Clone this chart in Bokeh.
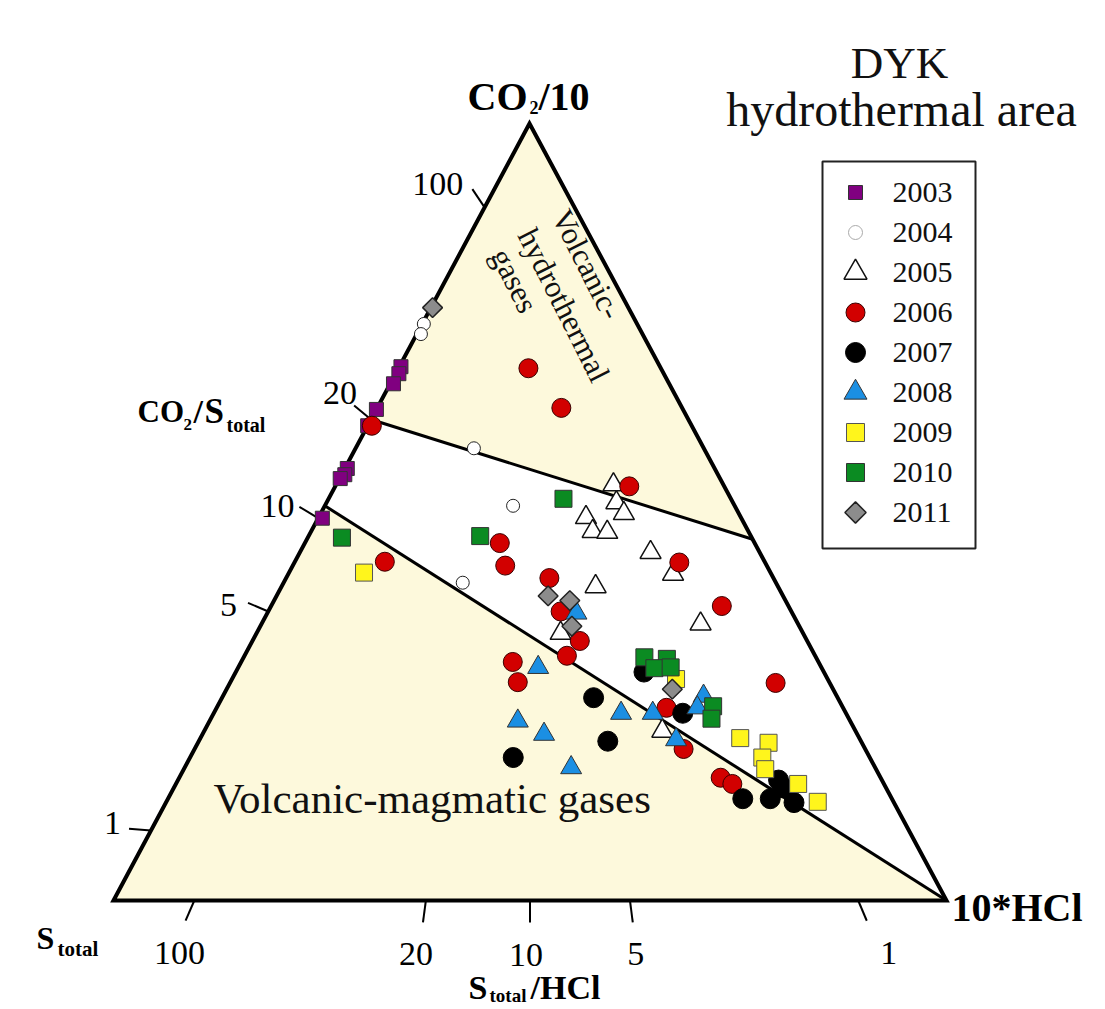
import numpy as np
from bokeh.plotting import figure
from bokeh.models import Range1d
from bokeh.embed import file_html
from bokeh.resources import INLINE
from bokeh.core.properties import value

# ---------------- data: ternary percentages (CO2/10 , 10*HCl ; S_total = rest) -------------
co2_2003 = [68.7, 67.8, 66.5, 63.2, 61.1, 55.6, 54.8, 54.3, 49.2]
hcl_2003 = [0.2, 0.4, 0.4, 0.0, 0.0, 0.3, 0.4, 0.1, 0.5]

co2_2004 = [74.2, 72.9, 58.2, 50.8, 40.9]
hcl_2004 = [0.2, 0.5, 14.2, 22.6, 21.5]

co2_2005 = [53.5, 51.2, 49.8, 49.3, 47.5, 47.4, 44.8, 42.0, 40.4, 35.6, 34.4, 21.8]
hcl_2005 = [33.3, 34.8, 36.4, 32.1, 33.8, 35.6, 42.1, 46.2, 37.7, 52.7, 36.5, 55.0]

co2_2006 = [61.1, 68.5, 63.4, 53.3, 46.0, 43.1, 43.6, 41.5, 37.2, 33.4, 31.5, 30.7, 28.1,
            43.5, 37.9, 28.0, 24.8, 19.5, 15.8, 15.0]
hcl_2006 = [0.5, 15.6, 22.1, 35.3, 23.4, 25.5, 10.8, 31.6, 35.1, 39.3, 38.7, 32.6, 34.5,
            46.2, 54.1, 65.5, 54.0, 58.7, 65.0, 66.8]

co2_2007 = [29.4, 26.1, 24.1, 20.5, 18.4, 13.1, 13.1, 15.5, 14.5, 12.6]
hcl_2007 = [49.0, 44.6, 56.3, 49.1, 38.8, 69.0, 72.3, 72.1, 73.1, 75.4]

co2_2008 = [37.0, 30.0, 23.1, 21.4, 17.1, 24.1, 24.1, 20.7, 26.3, 24.8]
hcl_2008 = [37.1, 36.0, 37.0, 41.0, 46.4, 48.9, 52.7, 57.2, 57.7, 57.7]

co2_2009 = [42.2, 28.5, 20.9, 20.3, 18.4, 16.9, 15.0, 12.7]
hcl_2009 = [9.0, 53.3, 64.8, 68.5, 68.7, 69.8, 74.7, 78.2]

co2_2010 = [46.7, 46.9, 51.7, 31.3, 31.1, 29.9, 30.0, 25.0, 23.4]
hcl_2010 = [4.1, 20.6, 28.2, 48.1, 50.9, 50.0, 51.9, 59.5, 60.1]

co2_2011 = [76.3, 39.2, 38.6, 35.3, 27.2]
hcl_2011 = [0.2, 32.6, 35.5, 37.4, 53.5]

years = ["2003", "2004", "2005", "2006", "2007", "2008", "2009", "2010", "2011"]

# axis ticks (ratio labels) and their position along the edges (% of the edge)
left_tick_labels = ["1", "5", "10", "20", "100"]        # CO2/S_total
left_tick_co2 = [9.0, 37.2, 49.2, 61.9, 89.2]
bottom_tick_labels = ["100", "20", "10", "5", "1"]      # S_total/HCl
bottom_tick_hcl = [9.7, 37.5, 50.0, 62.0, 89.4]

# field boundaries (ternary end points: co2 %, hcl %)
upper_line = [(61.9, 0.0), (46.5, 53.5)]
lower_line = [(50.8, 0.0), (0.0, 100.0)]

# ---------------- geometry (screen pixels) ----------------
SX, SY = 113.0, 900.0     # S_total vertex
HX, HY = 946.0, 900.0     # 10*HCl vertex
CX, CY = 529.0, 123.0     # CO2/10 vertex


def tern(co2, hcl):
    c = np.asarray(co2, dtype=float) / 100.0
    h = np.asarray(hcl, dtype=float) / 100.0
    s = 1.0 - c - h
    return s * SX + c * CX + h * HX, s * SY + c * CY + h * HY


W, H = 1104, 1008
p = figure(width=W, height=H, x_range=Range1d(0, W), y_range=Range1d(H, 0),
           output_backend="svg", toolbar_location=None,
           x_axis_location=None, y_axis_location=None,
           min_border=0, outline_line_color=None)
p.grid.visible = False
p.background_fill_color = "white"
p.border_fill_color = "white"

FONT = value("Liberation Serif")
CREAM = "#fdf9dc"

# triangle fill
tx, ty = tern([0, 100, 0], [0, 0, 100])
p.patch(list(tx), list(ty), fill_color=CREAM, line_color=None)

# white middle field
(ul1x, ul2x), (ul1y, ul2y) = tern([upper_line[0][0], upper_line[1][0]], [upper_line[0][1], upper_line[1][1]])
(ll1x, ll2x), (ll1y, ll2y) = tern([lower_line[0][0], lower_line[1][0]], [lower_line[0][1], lower_line[1][1]])
p.patch([ul1x, ul2x, ll2x, ll1x], [ul1y, ul2y, ll2y, ll1y], fill_color="white", line_color=None)

# boundary lines
p.line([ul1x, ul2x], [ul1y, ul2y], line_color="black", line_width=3)
p.line([ll1x, ll2x], [ll1y, ll2y], line_color="black", line_width=3)

# triangle outline
p.patch(list(tx), list(ty), fill_color=None, line_color="black", line_width=4, line_join="miter")

# ticks: radial from the opposite vertex
TL = 22.0
lx, ly = tern(left_tick_co2, [0] * len(left_tick_co2))
dxl, dyl = lx - HX, ly - HY
nl = np.hypot(dxl, dyl)
lex, ley = lx + TL * dxl / nl, ly + TL * dyl / nl
p.segment(lx, ly, lex, ley, line_color="black", line_width=2)

bx, by = tern([0] * len(bottom_tick_hcl), bottom_tick_hcl)
dxb, dyb = bx - CX, by - CY
nb = np.hypot(dxb, dyb)
bex, bey = bx + TL * dxb / nb, by + TL * dyb / nb
p.segment(bx, by, bex, bey, line_color="black", line_width=2)

left_off = [(-8, -6), (-11, 2), (-5, -1), (3, -12), (-9, -5)]
p.text(x=[lex[i] + left_off[i][0] for i in range(5)],
       y=[ley[i] + left_off[i][1] for i in range(5)],
       text=left_tick_labels, text_font=FONT, text_font_size="34px",
       text_align="right", text_baseline="middle", text_color="black")
bottom_off = [-6, -7, -4, 3, 22]
p.text(x=[bex[i] + bottom_off[i] for i in range(5)],
       y=[bey[i] + 32 for i in range(5)],
       text=bottom_tick_labels, text_font=FONT, text_font_size="34px",
       text_align="center", text_baseline="middle", text_color="black")

# ---------------- data points ----------------
styles = {
    "2003": dict(marker="square", size=14, fill_color="#800080", line_color="#333333", line_width=1),
    "2004": dict(marker="circle", size=13, fill_color="white", line_color="#222222", line_width=1),
    "2005": dict(marker="triangle", size=21, fill_color="white", line_color="#111111", line_width=1.5),
    "2006": dict(marker="circle", size=19, fill_color="#d20000", line_color="#3a0000", line_width=1),
    "2007": dict(marker="circle", size=20, fill_color="black", line_color="black", line_width=1),
    "2008": dict(marker="triangle", size=21, fill_color="#1b8fe3", line_color="#333333", line_width=1),
    "2009": dict(marker="square", size=17, fill_color="#fff51c", line_color="#555555", line_width=1),
    "2010": dict(marker="square", size=17, fill_color="#0b8b22", line_color="#333333", line_width=1),
    "2011": dict(marker="square", size=14, angle=np.pi / 4, fill_color="#8c8c8c",
                 line_color="#222222", line_width=1.5),
}
series = {
    "2003": (co2_2003, hcl_2003), "2004": (co2_2004, hcl_2004), "2005": (co2_2005, hcl_2005),
    "2006": (co2_2006, hcl_2006), "2007": (co2_2007, hcl_2007), "2008": (co2_2008, hcl_2008),
    "2009": (co2_2009, hcl_2009), "2010": (co2_2010, hcl_2010), "2011": (co2_2011, hcl_2011),
}
for yr in years:
    xs, ys = tern(*series[yr])
    p.scatter(xs, ys, **styles[yr])

# ---------------- legend ----------------
p.quad(left=[822], right=[975], top=[161], bottom=[548], fill_color=None,
       line_color="#222222", line_width=2)
leg_sizes = {"2003": 14, "2004": 14, "2005": 23, "2006": 19, "2007": 20,
             "2008": 23, "2009": 18, "2010": 18, "2011": 15}
for i, yr in enumerate(years):
    yy = 192 + 40 * i
    st = dict(styles[yr])
    st["size"] = leg_sizes[yr]
    if yr == "2004":
        st["line_color"] = "#aaaaaa"
    p.scatter([855], [yy], **st)
p.text(x=[892] * 9, y=[192 + 40 * i for i in range(9)], text=years, text_font=FONT,
       text_font_size="30px", text_align="left", text_baseline="middle", text_color="#111111")

# ---------------- titles and labels ----------------
MID = dict(text_font=FONT, text_baseline="middle", text_color="#111111")
p.text(x=[899], y=[62], text=["DYK"], text_font_size="45px", text_align="center", **MID)
p.text(x=[901], y=[109], text=["hydrothermal area"], text_font_size="48px",
       text_align="center", **MID)

p.text(x=[213], y=[798], text=["Volcanic-magmatic gases"], text_font_size="43px",
       text_align="left", **MID)

ang = -np.deg2rad(63.3)
p.text(x=[560, 526, 499], y=[211, 230, 250],
       text=["Volcanic-", "hydrothermal", "gases"], angle=ang,
       text_font_size="31px", text_align="left", **MID)

BOLD = dict(text_font=FONT, text_font_style="bold", text_align="left",
            text_baseline="middle", text_color="black")
# CO2/10 (top)
p.text(x=[467], y=[96], text=["CO"], text_font_size="40px", **BOLD)
p.text(x=[529], y=[107], text=["2"], text_font_size="18px", **BOLD)
p.text(x=[538], y=[96], text=["/10"], text_font_size="40px", **BOLD)
# CO2/S_total (left)
p.text(x=[137], y=[411], text=["CO"], text_font_size="31px", **BOLD)
p.text(x=[183], y=[424], text=["2"], text_font_size="17px", **BOLD)
p.text(x=[193], y=[411], text=["/"], text_font_size="34px", **BOLD)
p.text(x=[204], y=[411], text=["S"], text_font_size="35px", **BOLD)
p.text(x=[226], y=[424], text=["total"], text_font_size="20px", **BOLD)
# S_total (bottom-left)
p.text(x=[36], y=[937], text=["S"], text_font_size="32px", **BOLD)
p.text(x=[57], y=[948], text=["total"], text_font_size="21px", **BOLD)
# S_total/HCl (bottom)
p.text(x=[468], y=[987], text=["S"], text_font_size="34px", **BOLD)
p.text(x=[489], y=[995], text=["total"], text_font_size="19px", **BOLD)
p.text(x=[530], y=[987], text=["/HCl"], text_font_size="34px", **BOLD)
# 10*HCl (right)
p.text(x=[951], y=[907], text=["10*HCl"], text_font_size="40px", **BOLD)

open("out.html", "w").write(file_html(p, INLINE))
